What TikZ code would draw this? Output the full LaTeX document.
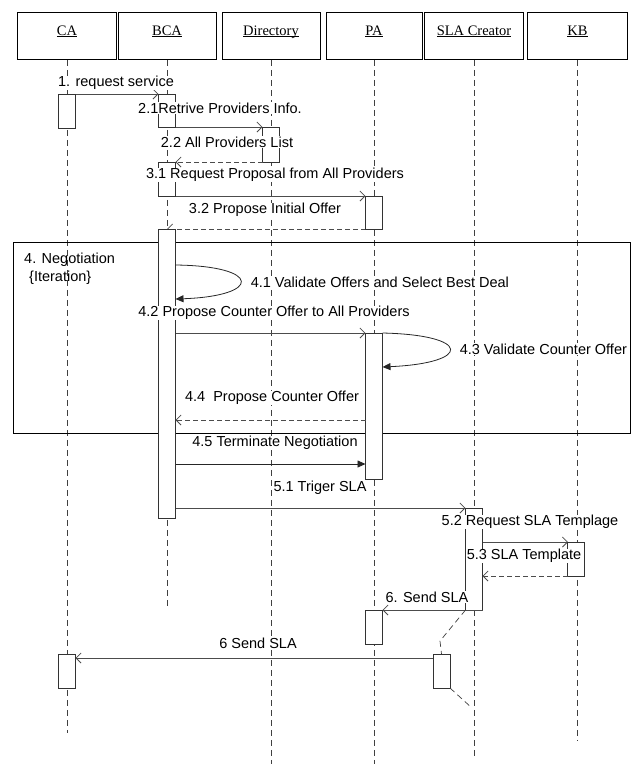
\documentclass[tikz,border=0pt]{standalone}
\usepackage{fontspec}
\setmainfont{Liberation Sans}
\newfontfamily\hdrfont{Liberation Serif}
\usetikzlibrary{arrows.meta}
\newcommand\hdrul[1]{\underline{\smash{#1}}}
\begin{document}
\begin{tikzpicture}[x=1pt,y=-1pt,
  hdr/.style={draw=black, line width=0.8pt, minimum height=47pt, inner sep=0pt, font=\hdrfont\fontsize{14.5}{16}\selectfont},
  life/.style={draw=black!75, line width=0.7pt, dash pattern=on 6pt off 4pt},
  act/.style={draw=black!80, fill=white, line width=0.8pt, minimum width=17pt, inner sep=0pt, outer sep=0pt},
  msg/.style={draw=black!70, line width=0.8pt, -{Straight Barb[length=5pt,width=10pt]}},
  ret/.style={msg, dash pattern=on 5pt off 3pt},
  sync/.style={draw=black!85, line width=0.8pt, -{Triangle[length=8pt,width=7pt]}},
  lbl/.style={fill=white, inner sep=0.6pt, font=\fontsize{14.5}{16}\selectfont},
  frm/.style={draw=black, line width=0.9pt, inner sep=0pt},
  plain/.style={inner sep=0pt, font=\fontsize{14.5}{16}\selectfont}
]
\useasboundingbox (0,0) rectangle (638,764);
% headers
\node[hdr, minimum width=99pt]  (CA)  at (67,36)  {\hdrul{CA}};
\node[hdr, minimum width=98pt]  (BCA) at (167,36) {\hdrul{BCA}};
\node[hdr, minimum width=98pt]  (DIR) at (271,36) {\hdrul{Directory}};
\node[hdr, minimum width=96pt]  (PA)  at (374,36) {\hdrul{PA}};
\node[hdr, minimum width=99pt]  (SLA) at (474,36) {\hdrul{SLA Creator}};
\node[hdr, minimum width=100pt] (KB)  at (577.5,36) {\hdrul{KB}};
% lifeline ends
\coordinate (caE)  at (67,733);
\coordinate (bcaE) at (167,606);
\coordinate (dirE) at (271,764);
\coordinate (paE)  at (374,764);
\coordinate (slaE) at (474,757);
\coordinate (kbE)  at (577.5,740);
\draw[life] (CA.south) -- (caE);
\draw[life] (BCA.south) -- (bcaE);
\draw[life] (DIR.south) -- (dirE);
\draw[life] (PA.south) -- (paE);
\draw[life] (SLA.south) -- (slaE);
\draw[life] (KB.south) -- (kbE);
% negotiation frame
\node[frm, minimum width=617pt, minimum height=191pt] (neg) at (321.5,337.5) {};
\node[plain, anchor=west] (negT) at (24,260) {4. Negotiation};
\node[plain, anchor=west] (negI) at (29,278) {\{Iteration\}};
% activation positions (coordinates first, so early messages can be drawn beneath boxes)
\coordinate (ca1c) at (67,111);
% helper coordinates
\coordinate (l41s) at (175.5,265);
\coordinate (l41e) at (175.5,299);
\coordinate (b42)  at (175.5,333);
\coordinate (p42)  at (365.5,333);
\coordinate (p43e) at (382.5,367);
\coordinate (p44)  at (365.5,420);
\coordinate (b44)  at (175.5,420);
\coordinate (b45)  at (175.5,464);
\coordinate (p45)  at (365.5,464);
\coordinate (b51)  at (175.5,508);
\coordinate (s52)  at (482.5,542);
\coordinate (k52)  at (568,542);
\coordinate (s53)  at (482.5,576);
\coordinate (d1)   at (440,641);
\coordinate (d2)   at (472,708);
\coordinate (s6)   at (433,658);
\coordinate (c6)   at (75.5,658);
\coordinate (a1s)  at (75.5,94);
\coordinate (a1e)  at (158.5,94);
\coordinate (a21s) at (175.5,127);
\coordinate (a21e) at (262.5,127);
\coordinate (a31s) at (175.5,196);
\coordinate (a31e) at (365.5,196);
\coordinate (a32s) at (365.5,229);
\coordinate (a32e) at (167,229);
% messages whose heads sit on a box corner (drawn beneath the boxes)
\draw[msg] (a1s) -- (a1e);
\draw[msg] (a21s) -- (a21e);
\draw[msg] (a31s) -- (a31e);
\draw[ret] (a32s) -- (a32e);
\draw[msg] (b42) -- (p42);
\draw[msg] (s52) -- (k52);
% activations
\node[act, minimum height=34pt]  (ca1)  at (ca1c) {};
\node[act, minimum height=33pt]  (bca1) at (167,110.5) {};
\node[act, minimum height=35pt]  (dir1) at (271,144.5) {};
\node[act, minimum height=34pt]  (bca2) at (167,179) {};
\node[act, minimum height=33pt]  (pa1)  at (374,212.5) {};
\node[act, minimum height=289pt] (bca3) at (167,373.5) {};
\node[act, minimum height=146pt] (pa2)  at (374,406) {};
\node[act, minimum height=102pt] (sla1) at (474,559) {};
\node[act, minimum height=34pt]  (kb1)  at (576,559) {};
\node[act, minimum height=34pt]  (pa3)  at (374,627) {};
\node[act, minimum height=34pt]  (ca2)  at (67,671) {};
\node[act, minimum height=34pt]  (sla2) at (441.5,671) {};
% remaining messages
\draw[ret] (dir1.south west) -- (bca2.north east);
\draw[sync] (l41s) .. controls (262,266) and (262,296) .. (l41e);
\draw[sync] (pa2.north east) .. controls (472,335) and (472,363) .. (p43e);
\draw[ret] (p44) -- (b44);
\draw[sync] (b45) -- (p45);
\draw[msg] (b51) -- (sla1.north west);
\draw[ret] (kb1.south west) -- (s53);
\draw[msg] (sla1.south east) -- (pa3.north east);
\draw[life] (sla1.south west) -- (d1) -- (sla2.north);
\draw[life] (sla2.south east) -- (d2);
\draw[msg] (s6) -- (c6);
% labels
\node[lbl] (t1)  at (116,83)  {1. request service};
\node[lbl] (t21) at (220,108) {2.1Retrive Providers Info.};
\node[lbl] (t22) at (227,142) {2.2 All Providers List};
\node[lbl] (t31) at (275,175) {3.1 Request Proposal from All Providers};
\node[lbl] (t32) at (265,210) {3.2 Propose Initial Offer};
\node[lbl, anchor=west] (t41) at (250,282) {4.1 Validate Offers and Select Best Deal};
\node[lbl] (t42) at (274,313) {4.2 Propose Counter Offer to All Providers};
\node[lbl, anchor=west] (t43) at (459,349) {4.3 Validate Counter Offer};
\node[lbl] (t44) at (272,398) {4.4\ \ Propose Counter Offer};
\node[lbl] (t45) at (275,443) {4.5 Terminate Negotiation};
\node[lbl] (t51) at (320,488) {5.1 Triger SLA};
\node[lbl] (t52) at (530,522) {5.2 Request SLA Templage};
\node[lbl] (t53) at (524,556) {5.3 SLA Template};
\node[lbl] (t6a) at (427,597) {6. Send SLA};
\node[lbl] (t6b) at (258,643) {6 Send SLA};
\end{tikzpicture}
\end{document}
